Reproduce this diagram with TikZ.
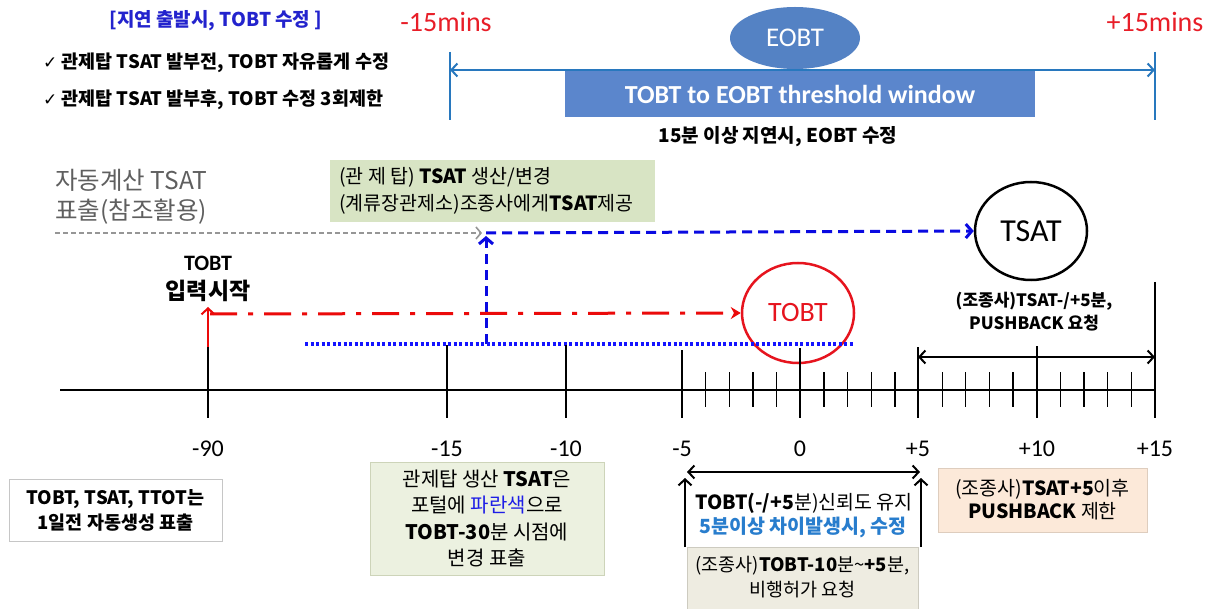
\documentclass[tikz,border=0pt]{standalone}
\usepackage{fontspec}
\setmainfont{Noto Sans CJK KR}
\newfontfamily\lat{Carlito}
\newfontfamily\sym{DejaVu Sans}
\usetikzlibrary{arrows.meta,shapes.geometric}
\newcommand\myfs[2]{\fontsize{#1}{#2}\selectfont}
\definecolor{titleblue}{RGB}{35,35,205}
\definecolor{minsred}{RGB}{232,30,40}
\definecolor{eobtblue}{RGB}{84,130,196}
\definecolor{winblue}{RGB}{91,134,204}
\definecolor{lineblue}{RGB}{40,120,190}
\definecolor{topgreen}{RGB}{216,228,196}
\definecolor{botgreen}{RGB}{236,241,224}
\definecolor{greenedge}{RGB}{205,212,185}
\definecolor{peach}{RGB}{252,233,217}
\definecolor{peachedge}{RGB}{222,205,190}
\definecolor{beige}{RGB}{238,236,225}
\definecolor{beigeedge}{RGB}{205,203,192}
\definecolor{dashblue}{RGB}{10,10,225}
\definecolor{dotblue}{RGB}{20,20,255}
\definecolor{ddred}{RGB}{235,10,10}
\definecolor{tobtred}{RGB}{230,20,30}
\definecolor{autogray}{RGB}{95,95,95}
\definecolor{dgray}{RGB}{150,150,150}
\definecolor{note}{RGB}{40,125,205}
\definecolor{pblue}{RGB}{30,30,230}
\begin{document}
\begin{tikzpicture}[x=1pt,y=-1pt,
  txt/.style={inner sep=0pt, align=center},
  chev/.style={-{Straight Barb[length=6pt,width=13pt]}},
  dchev/.style={{Straight Barb[length=6pt,width=13pt]}-{Straight Barb[length=6pt,width=13pt]}},
  major/.style={line width=2.2pt},
  minor/.style={line width=1.3pt},
  axlbl/.style={inner sep=0pt, font=\lat\myfs{24}{26}},
  bx/.style={inner sep=0pt, line width=0.8pt}]
\useasboundingbox (0,0) rectangle (1212,609);
\fill[white] (0,0) rectangle (1212,609);

% ---------- top left notes
\node[txt, text=titleblue, font=\bfseries\myfs{19}{22}] (title) at (216,21) {[지연 출발시, TOBT 수정 ]};
\node[txt, anchor=west, font=\bfseries\myfs{18.5}{22}] (chk1) at (43,63) {{\sym\mdseries\myfs{17}{19}✓} 관제탑 TSAT 발부전, TOBT 자유롭게 수정};
\node[txt, anchor=west, font=\bfseries\myfs{18.5}{22}] (chk2) at (43,100) {{\sym\mdseries\myfs{17}{19}✓} 관제탑 TSAT 발부후, TOBT 수정 3회제한};

% ---------- EOBT window
\node[txt, text=minsred, font=\lat\myfs{28}{30}] (m15) at (446,22) {-15mins};
\node[txt, text=minsred, font=\lat\myfs{28}{30}] (p15) at (1155,22) {+15mins};
\node[ellipse, fill=eobtblue, minimum width=130pt, minimum height=62pt, inner sep=0pt, text=white, font=\lat\myfs{27}{29}] (eobt) at (795,38) {EOBT};
\node[fill=winblue, minimum width=470pt, minimum height=47pt, inner sep=0pt, text=white, font=\lat\bfseries\myfs{26}{28}] (win) at (800,94) {TOBT to EOBT threshold window};
\coordinate (wl) at (450,70);
\coordinate (wr) at (1155,70);
\draw[lineblue, line width=2pt] (450,52) -- (450,120);
\draw[lineblue, line width=2pt] (1155,52) -- (1155,120);
\draw[lineblue, line width=2pt, dchev] (wl) -- (wr);
\node[txt, font=\bfseries\myfs{19}{22}] (eobtnote) at (778,137) {15분 이상 지연시, EOBT 수정};

% ---------- middle
\node[txt, anchor=west, align=left, text=autogray, font=\myfs{24.5}{30}] (auto) at (55,197) {자동계산 TSAT\\표출(참조활용)};
\node[fill=topgreen, minimum width=325pt, minimum height=62pt, inner sep=0pt] (gbox) at (492,191) {};
\node[txt, anchor=west, align=left, font=\myfs{19.5}{27}] (gtext) at (339,191) {(관 제 탑) {\bfseries TSAT} 생산/변경\\(계류장관제소)조종사에게{\bfseries TSAT}제공};

\node[ellipse, draw, line width=2.5pt, minimum width=112pt, minimum height=98pt, inner sep=0pt, font=\lat\myfs{32}{34}] (tsat) at (1031,231) {TSAT};
\node[ellipse, draw=tobtred, line width=2.5pt, minimum width=112pt, minimum height=100pt, inner sep=0pt, text=tobtred, font=\lat\myfs{28}{30}] (tobt) at (798,313) {TOBT};

\coordinate (gs) at (55,233);
\coordinate (corner) at (486,233);
\coordinate (vb) at (486,344);
\coordinate (rs) at (208,348);
\coordinate (ds) at (305,344);
\coordinate (de) at (853,344);

\draw[dgray, line width=1.6pt, dash pattern=on 5pt off 3pt, -{Straight Barb[length=5pt,width=12pt]}] (gs) -- (482,233);
\draw[dashblue, line width=3pt, dash pattern=on 10pt off 6pt, -{Straight Barb[length=6pt,width=14pt]}] (corner) -- (tsat.west);
\draw[dashblue, line width=3pt, dash pattern=on 10pt off 6pt, -{Straight Barb[length=6pt,width=14pt]}] (vb) -- (486,236);

\node[txt, font=\lat\bfseries\myfs{22}{24}] (st1) at (208,263) {TOBT};
\node[txt, font=\bfseries\myfs{23}{25}] (st2) at (208,291) {입력시작};
\draw[ddred, line width=2pt, chev] (rs) -- (208,307);
\draw[ddred, line width=3pt, dash pattern=on 27pt off 11pt on 5pt off 11pt, -{Stealth[length=10pt,width=12pt]}] (210,314) -- (tobt.west);
\draw[dotblue, line width=3pt, dash pattern=on 3pt off 2.5pt] (ds) -- (de);

\node[txt, font=\bfseries\myfs{17}{23}] (pbreq) at (1034,312) {(조종사)TSAT-/+5분,\\PUSHBACK 요청};
\draw[line width=2pt, dchev] (918,357) -- (1155,357);

% ---------- axis
\draw[line width=2.2pt] (60,390) -- (1155,390);
\draw[major] (208,347) -- (208,418);
\draw[major] (447,345) -- (447,418);
\draw[major] (566,345) -- (566,418);
\draw[major] (682,350) -- (682,418);
\draw[major] (800,348) -- (800,418);
\draw[major] (918,347) -- (918,418);
\draw[major] (1037,346) -- (1037,418);
\draw[major] (1155,282) -- (1155,418);
\foreach \k in {1,2,3,4,6,7,8,9,11,12,13,14,16,17,18,19}
  \draw[minor] ({682+\k*23.65},372) -- ({682+\k*23.65},407);
\foreach \x/\t [count=\i] in {208/-90,447/-15,566/-10,682/-5,800/0,918/+5,1037/+10,1155/+15}
  \node[axlbl] (lab\i) at (\x,449) {\t};

% ---------- bottom
\node[bx, draw=gray!45, fill=white, minimum width=213pt, minimum height=62pt, font=\bfseries\myfs{18.5}{25}, align=center] (b1) at (115.5,510) {TOBT, TSAT, TTOT는\\1일전 자동생성 표출};
\node[bx, draw=greenedge, fill=botgreen, minimum width=234pt, minimum height=113pt, font=\myfs{20}{26.5}, align=center] (b2) at (487,518.5) {관제탑 생산 {\bfseries TSAT}은\\포털에 {\color{pblue}파란색}으로\\{\bfseries TOBT-30}분 시점에\\변경 표출};

\coordinate (al) at (687,472);
\coordinate (ar) at (920,472);
\draw[line width=2pt, dchev] (al) -- (ar);
\draw[line width=2pt, chev] (685,547) -- (685,478);
\draw[line width=2pt, chev] (921,547) -- (921,478);
\node[txt, font=\myfs{19.5}{24}] (rel1) at (804,503) {{\bfseries TOBT(-/+5}분)신뢰도 유지};
\node[txt, text=note, font=\bfseries\myfs{19.5}{24}] (rel2) at (803,527) {5분이상 차이발생시, 수정};

\node[bx, draw=beigeedge, fill=beige, anchor=north, minimum width=231pt, minimum height=70pt] (b3) at (802.5,547) {};
\node[txt, font=\myfs{18.5}{25}] (b3t) at (802.5,577) {(조종사){\bfseries TOBT-10}분\textasciitilde{\bfseries +5}분,\\비행허가 요청};

\node[bx, draw=peachedge, fill=peach, minimum width=209pt, minimum height=64pt, font=\myfs{19.5}{23}, align=center] (b4) at (1042.5,500) {(조종사){\bfseries TSAT+5}이후\\{\bfseries PUSHBACK} 제한};
\end{tikzpicture}
\end{document}
